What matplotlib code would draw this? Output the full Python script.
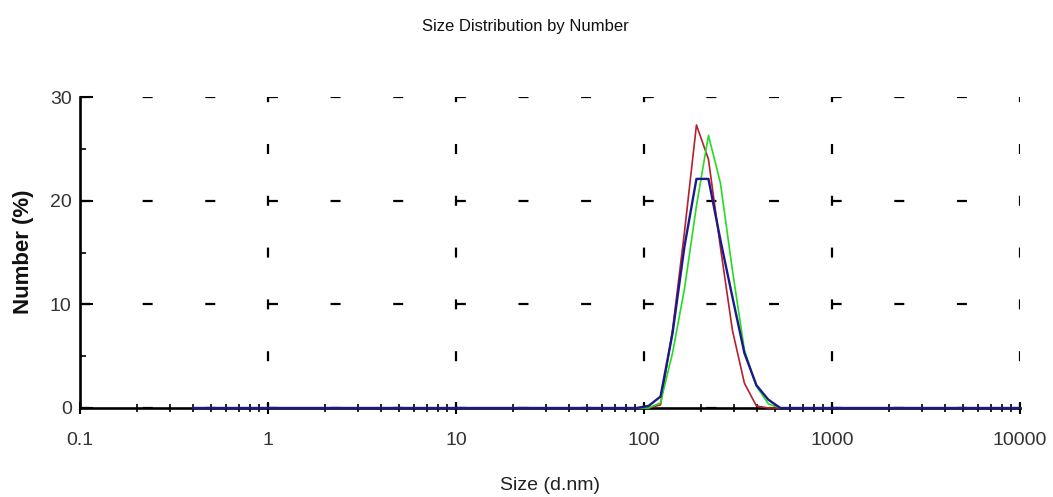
import matplotlib
matplotlib.use('Agg')
import matplotlib.pyplot as plt
from matplotlib.ticker import LogLocator, NullFormatter, FixedLocator

plt.rcParams['lines.scale_dashes'] = False
plt.rcParams['font.family'] = ['Liberation Sans', 'DejaVu Sans']

# Size classes (d.nm) and number distributions (%) for three runs
sizes_nm = [0.4, 91.3, 105.7, 122.4, 141.8, 164.2, 190.1, 220.2, 255.0,
            295.3, 342.0, 396.1, 458.7, 531.2, 615.1, 10000]
run_red = [0, 0, 0, 0.3, 7.5, 17.0, 27.3, 24.0, 15.5, 7.5, 2.4, 0.2, 0, 0, 0, 0]
run_green = [0, 0, 0, 0.5, 5.3, 11.5, 19.5, 26.3, 21.7, 13.3, 5.6, 2.1, 0.4, 0, 0, 0]
run_blue = [0, 0, 0.2, 1.1, 7.2, 15.6, 22.1, 22.1, 16.2, 10.7, 5.3, 2.2, 0.8, 0, 0, 0]

xticks = [0.1, 1, 10, 100, 1000, 10000]
xtick_labels = ['0.1', '1', '10', '100', '1000', '10000']
yticks = [0, 10, 20, 30]

fig = plt.figure(figsize=(10.53, 4.97), dpi=100)
ax = fig.add_axes([80 / 1053, 1 - 408 / 497, 940 / 1053, 311 / 497])

ax.plot(sizes_nm, run_red, color='#b3202e', lw=1.2, zorder=3, clip_on=False)
ax.plot(sizes_nm, run_green, color='#22dd22', lw=1.2, zorder=4, clip_on=False)
ax.plot(sizes_nm, run_blue, color='#1c1a8a', lw=1.7, zorder=5, clip_on=False)

ax.set_xscale('log')
ax.set_xlim(0.1, 10000)
ax.set_ylim(0, 30)

ax.set_xticks(xticks)
ax.set_xticklabels(xtick_labels)
ax.xaxis.set_minor_locator(LogLocator(base=10, subs=range(2, 10), numticks=20))
ax.xaxis.set_minor_formatter(NullFormatter())
ax.set_yticks(yticks)
ax.yaxis.set_minor_locator(FixedLocator([5, 15, 25]))

# sparse dashed grid like the instrument output
ax.xaxis.grid(True, which='major', color='black', lw=1.6,
              linestyle=(3.6, (7.2, 30.1)))
ax.yaxis.grid(True, which='major', color='black', lw=1.6,
              linestyle=(0, (7.2, 37.9)))
ax.set_axisbelow(True)

for side in ['top', 'right']:
    ax.spines[side].set_visible(False)
for side in ['left', 'bottom']:
    ax.spines[side].set_linewidth(1.9)
    ax.spines[side].set_zorder(2)

ax.tick_params(axis='x', which='major', direction='inout', length=9, width=1.5,
               pad=13, labelsize=14, labelcolor='#333333')
ax.tick_params(axis='x', which='minor', direction='inout', length=6, width=1.2)
ax.tick_params(axis='y', which='major', direction='in', length=9, width=1.5,
               pad=6, labelsize=14, labelcolor='#333333')
ax.tick_params(axis='y', which='minor', direction='in', length=4, width=1.2)

fig.text(525 / 1053, 1 - 27 / 497, 'Size Distribution by Number',
         ha='center', va='center', fontsize=12, color='#111111')
fig.text(550 / 1053, 1 - 486 / 497, 'Size (d.nm)',
         ha='center', va='center', fontsize=14, color='#222222')
fig.text(23 / 1053, 1 - 252 / 497, 'Number (%)', rotation=90,
         ha='center', va='center', fontsize=16, fontweight='bold', color='#111111')

fig.savefig('out.png', dpi=100)
